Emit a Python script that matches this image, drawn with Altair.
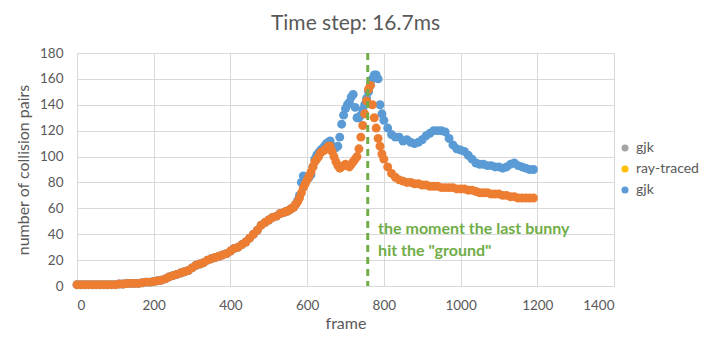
import altair as alt
import pandas as pd

# ---- data ----
frames = ([0, 10, 20, 30, 40, 50, 60, 70, 80, 90,
           100, 110, 120, 130, 140, 150, 160, 170, 180, 190,
           200, 210, 220, 230, 240, 250, 260, 270, 280, 290,
           300, 310, 320, 330, 340, 350, 360, 370, 380, 390,
           400, 410, 420, 430, 440, 450, 460, 470, 480, 490,
           500, 510, 520, 530]
          + [540, 545, 550, 555, 560, 565, 570, 575, 580, 585,
             590, 595, 600, 605, 610, 615, 620, 625, 630, 635,
             640, 645, 650, 655, 660, 665, 670, 675, 680, 685,
             690, 695, 700, 705, 710, 715, 720, 725, 730, 735,
             740, 745, 750, 755, 760, 765, 770, 775, 780, 785,
             790, 795, 800]
          + [810, 820, 830, 840, 850, 860, 870, 880, 890,
             900, 910, 920, 930, 940, 950, 960, 970, 980, 990,
             1000, 1010, 1020, 1030, 1040, 1050, 1060, 1070, 1080, 1090,
             1100, 1110, 1120, 1130, 1140, 1150, 1160, 1170, 1180, 1190])

ray_traced = ([1, 1, 1, 1, 1, 1, 1, 1, 1, 1,
               1, 1.5, 1.5, 2, 2, 2, 2, 2.5, 3, 3,
               3.5, 4, 4.5, 5.5, 7, 8, 9, 10, 11, 12,
               14, 16, 17, 18, 20, 21, 22, 23, 24, 25,
               27, 29, 30, 32, 34, 37, 40, 43, 47, 49,
               51, 53, 54, 56]
              + [57, 57.5, 58, 59, 60, 61, 63, 65, 68, 72,
                 76, 79, 82, 85, 88, 92, 96, 98, 100, 103,
                 104, 105, 106, 108, 108, 104, 100, 96, 93, 91,
                 92, 93, 94, 93, 92, 94, 96, 98, 100, 106,
                 115, 124, 133, 143, 152, 155, 140, 130, 122, 114,
                 108, 102, 98]
              + [92, 87, 84, 82, 81, 80, 80, 79, 79,
                 78, 78, 77, 77, 77, 76, 76, 76, 76, 75,
                 75, 75, 74, 74, 73, 72, 72, 72, 71, 71,
                 71, 70, 70, 69, 69, 68, 68, 68, 68, 68])

gjk = ([1, 1, 1, 1, 1, 1, 1, 1, 1, 1,
        1, 1.5, 1.5, 2, 2, 2, 2, 2.5, 3, 3,
        3.5, 4, 4.5, 5.5, 7, 8, 9, 10, 11, 12,
        14, 16, 17, 18, 20, 21, 22, 23, 24, 25,
        27, 29, 30, 32, 34, 37, 40, 43, 47, 49,
        51, 53, 54, 56]
       + [57, 57.5, 58, 59, 60, 61, 63, 66, 70, 80,
          85, 84, 84, 84, 86, 92, 98, 101, 103, 105,
          106, 108, 110, 111, 112, 108, 106, 107, 108, 115,
          125, 132, 137, 140, 142, 146, 148, 138, 130, 130,
          132, 136, 140, 145, 150, 155, 160, 163, 163, 160,
          140, 133, 128]
       + [122, 117, 115, 115, 112, 113, 111, 110, 111,
          113, 116, 118, 120, 120, 120, 119, 114, 109, 106,
          105, 104, 101, 98, 95, 94, 94, 93, 93, 92,
          92, 91, 92, 94, 95, 93, 92, 91, 90, 90])

legend_names = ["gjk ", "ray-traced", "gjk"]
legend_colors = ["#A5A5A5", "#FFC000", "#5B9BD5"]

event_frame = [758]
note_text = ['the moment the last bunny\nhit the "ground"']
note_frame = [785]
note_value = [40]

x_ticks = [0, 200, 400, 600, 800, 1000, 1200, 1400]
y_ticks = [0, 20, 40, 60, 80, 100, 120, 140, 160, 180]

# ---- tables ----
df = pd.DataFrame({
    "frame": frames + frames,
    "pairs": gjk + ray_traced,
    "series": ["gjk"] * len(gjk) + ["ray-traced"] * len(ray_traced),
})
rule_df = pd.DataFrame({"frame": event_frame})
note_df = pd.DataFrame({"frame": note_frame, "pairs": note_value, "note": note_text})
legend_df = pd.DataFrame({"name": legend_names})

FONT = "Lato"
GRAY_TXT = "#595959"
GRID = "#D9D9D9"

x_enc = alt.X("frame:Q", scale=alt.Scale(domain=[0, 1400], nice=False),
              axis=alt.Axis(values=x_ticks, title="frame", format="d",
                            labelPadding=12, titlePadding=4))
y_enc = alt.Y("pairs:Q", scale=alt.Scale(domain=[0, 180], nice=False),
              axis=alt.Axis(values=y_ticks, title="number of collision pairs",
                            labelPadding=14, titlePadding=8))

base = alt.Chart(df)
blue = base.transform_filter(alt.datum.series == "gjk").mark_circle(
    size=80, opacity=1, color="#5B9BD5").encode(x=x_enc, y=y_enc)
orange = base.transform_filter(alt.datum.series == "ray-traced").mark_circle(
    size=80, opacity=1, color="#ED7D31").encode(x=x_enc, y=y_enc)

rule = alt.Chart(rule_df).mark_rule(
    color="#70AD47", strokeWidth=3, strokeDash=[7, 5]).encode(x=x_enc)

note = alt.Chart(note_df).mark_text(
    align="left", baseline="alphabetic", lineBreak="\n", lineHeight=22,
    font=FONT, fontSize=16, fontWeight="bold", color="#70AD47"
).encode(x=x_enc, y=y_enc, text="note:N")

legend_layer = alt.Chart(legend_df).mark_circle(opacity=0, size=50).encode(
    color=alt.Color("name:N",
                    scale=alt.Scale(domain=legend_names, range=legend_colors),
                    legend=alt.Legend(title=None, orient="none", legendX=541,
                                      legendY=88, symbolOpacity=1,
                                      symbolType="circle", symbolSize=50,
                                      labelExpr="trim(datum.label)",
                                      labelFont=FONT, labelFontSize=14,
                                      labelColor=GRAY_TXT, rowPadding=7))
)

chart = alt.layer(blue, orange, rule, note, legend_layer).properties(
    width=537, height=233,
    title=alt.TitleParams("Time step: 16.7ms", font=FONT, fontSize=21,
                          fontWeight="normal", color=GRAY_TXT, anchor="middle",
                          dx=10, offset=12),
    autosize=alt.AutoSizeParams(type="none"),
    padding={"left": 69, "top": 45, "right": 91, "bottom": 47},
).configure_view(stroke=None).configure_axis(
    gridColor=GRID, domainColor=GRID, ticks=False, labelOverlap=False,
    labelFont=FONT, labelFontSize=13.5, labelColor=GRAY_TXT,
    titleFont=FONT, titleFontSize=16, titleFontWeight="normal", titleColor=GRAY_TXT,
)

chart.save("out.html", embed_options={"renderer": "svg", "actions": False})
